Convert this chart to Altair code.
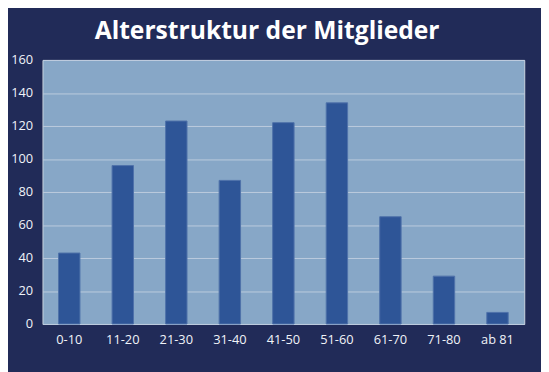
import altair as alt
import pandas as pd

categories = ["0-10", "11-20", "21-30", "31-40", "41-50", "51-60", "61-70", "71-80", "ab 81"]
members = [43, 96, 123, 87, 122, 134, 65, 29, 7]
title_text = ["Alterstruktur der Mitglieder"]

df = pd.DataFrame({"Altersgruppe": categories, "Mitglieder": members})
tdf = pd.DataFrame({"t": title_text})

FONT = "Open Sans"
BG = "#212B58"

bars = (
    alt.Chart(df)
    .mark_bar(color="#2E5597", stroke="#4F72AA", strokeWidth=1)
    .encode(
        x=alt.X(
            "Altersgruppe:N",
            sort=categories,
            title=None,
            scale=alt.Scale(paddingInner=0.6, paddingOuter=0.3),
            axis=alt.Axis(
                labelAngle=0,
                labelColor="#F0F3F8",
                labelFont=FONT,
                labelFontSize=13,
                labelPadding=10,
                ticks=False,
                domain=False,
            ),
        ),
        y=alt.Y(
            "Mitglieder:Q",
            title=None,
            scale=alt.Scale(domain=[0, 160], nice=False),
            axis=alt.Axis(
                values=[0, 20, 40, 60, 80, 100, 120, 140, 160],
                labelColor="#F0F3F8",
                labelFont=FONT,
                labelFontSize=13,
                labelPadding=10,
                ticks=False,
                domain=False,
                grid=True,
                gridColor="#BCCBDD",
                gridWidth=1,
            ),
        ),
    )
)

title = (
    alt.Chart(tdf)
    .mark_text(
        color="white",
        font=FONT,
        fontSize=25,
        fontWeight="bold",
        align="center",
        baseline="alphabetic",
    )
    .encode(text="t:N", x=alt.value(228), y=alt.value(-21))
)

chart = (
    alt.layer(bars, title)
    .properties(
        width=489,
        height=268,
        background=BG,
        autosize=alt.AutoSizeParams(type="none"),
        padding={"left": 35, "top": 50, "right": 17, "bottom": 46},
    )
    .configure_view(fill="#87A7C7", stroke="#C9D3E0", strokeWidth=1)
)

chart.save("out.html", embed_options={"renderer": "svg", "actions": False})
